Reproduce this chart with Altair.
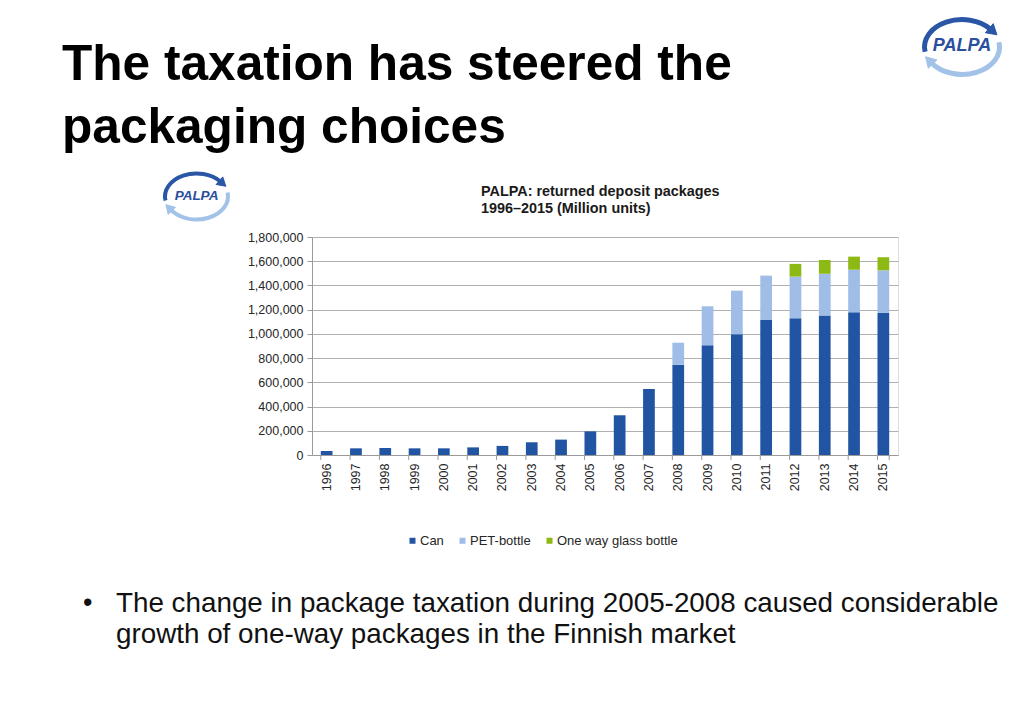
import altair as alt
import pandas as pd

years = [str(y) for y in range(1996, 2016)]
can = [33000, 55000, 58000, 55000, 55000, 63000, 75000, 105000, 127000, 195000,
       328000, 545000, 746000, 906000, 997000, 1115000, 1129000, 1151000, 1178000, 1173000]
pet = [0, 0, 0, 0, 0, 0, 0, 0, 0, 0,
       0, 0, 181000, 322000, 360000, 366000, 344000, 346000, 352000, 352000]
glass = [0, 0, 0, 0, 0, 0, 0, 0, 0, 0,
         0, 0, 0, 0, 0, 0, 105000, 114000, 108000, 108000]
series = ["Can", "PET-bottle", "One way glass bottle"]
colors = ["#2154a3", "#9fbde6", "#8db915"]
y_ticks = [0, 200000, 400000, 600000, 800000, 1000000, 1200000, 1400000, 1600000, 1800000]

title_text = "The taxation has steered the\npackaging choices"
chart_title = "PALPA: returned deposit packages\n1996\u20132015 (Million units)"
bullet_text = "The change in package taxation during 2005-2008 caused considerable\ngrowth of one-way packages in the Finnish market"
logo_word = "PALPA"

rows = []
for i, yr in enumerate(years):
    for k, (name, vals) in enumerate(zip(series, [can, pet, glass])):
        rows.append({"year": yr, "series": name, "order": k, "value": vals[i]})
df = pd.DataFrame(rows)

FONT = "Liberation Sans"
W, H = 586, 218
xscale = alt.Scale(domain=years, paddingInner=0.6, paddingOuter=0.3)
xaxis = alt.Axis(title=None, labelAngle=-90, labelFontSize=12.5, labelColor="#262626",
                 ticks=False, domainColor="#9a9a9a", labelPadding=8, labelFont=FONT)

bars = alt.Chart(df).mark_bar().encode(
    x=alt.X("year:N", scale=xscale, sort=years, axis=xaxis),
    y=alt.Y("value:Q", stack="zero", scale=alt.Scale(domain=[0, 1800000], nice=False),
            axis=alt.Axis(title=None, values=y_ticks,
                          labelExpr="format(datum.value, ',')", labelFontSize=12.5,
                          labelColor="#262626", tickSize=5, tickColor="#9a9a9a",
                          domainColor="#9a9a9a", gridColor="#b0b0b0", labelPadding=4,
                          labelFont=FONT)),
    color=alt.Color("series:N", scale=alt.Scale(domain=series, range=colors),
                    legend=alt.Legend(title=None, orient="none", legendX=94, legendY=297,
                                      direction="horizontal", columns=3, symbolType="square",
                                      symbolSize=36, symbolStrokeWidth=0, labelFontSize=13,
                                      labelColor="#262626", labelOffset=1, columnPadding=12,
                                      padding=0, labelFont=FONT)),
    order=alt.Order("order:Q", sort="ascending"),
)

edge_df = pd.DataFrame({"year": years})
edge_ticks = alt.Chart(edge_df).mark_rule(color="#9a9a9a").encode(
    x=alt.X("year:N", bandPosition=0, sort=years, scale=xscale, axis=xaxis),
    y=alt.value(H), y2=alt.value(H + 5))
last_tick = alt.Chart(pd.DataFrame({"year": [years[-1]]})).mark_rule(color="#9a9a9a").encode(
    x=alt.X("year:N", bandPosition=1, sort=years, scale=xscale, axis=xaxis),
    y=alt.value(H), y2=alt.value(H + 5))


def text_layer(txt, x, y, size, weight="normal", color="#000000", lh=None,
               align="left", baseline="alphabetic", style="normal"):
    kw = dict(align=align, baseline=baseline, fontSize=size, fontWeight=weight,
              font=FONT, color=color, lineBreak="\n", fontStyle=style)
    if lh is not None:
        kw["lineHeight"] = lh
    return alt.Chart(pd.DataFrame({"t": [txt]})).mark_text(**kw).encode(
        x=alt.value(x), y=alt.value(y), text="t:N")


title = text_layer(title_text, -250, -157, 49.6, "bold", "#000000", 63)
ctitle = text_layer(chart_title, 169, -41, 14.4, "bold", "#1a1a1a", 17)
bullet_dot = text_layer("\u2022", -229, 374, 27, "normal", "#111111")
bullet = text_layer(bullet_text, -196, 375, 27.8, "normal", "#111111", 31)

top_arc = "M-0.985,0.127 A1,0.73 0 0 1 0.766,-0.469"
top_head = "M0.932,-0.325 L0.623,-0.381 L0.833,-0.623 Z"
bot_arc = "M0.985,-0.127 A1,0.73 0 0 1 -0.819,0.419"
bot_head = "M-0.971,0.260 L-0.669,0.344 L-0.899,0.566 Z"


def logo(cx, cy, r, sw, fs):
    one = pd.DataFrame({"t": [logo_word]})
    size = (2 * r) ** 2
    layers = []
    for path, col, filled in [(top_arc, "#2a56a6", False), (top_head, "#2a56a6", True),
                              (bot_arc, "#a3c2e8", False), (bot_head, "#a3c2e8", True)]:
        if filled:
            m = alt.Chart(one).mark_point(shape=path, filled=True, fill=col, stroke=col,
                                          strokeWidth=1, size=size, opacity=1)
        else:
            m = alt.Chart(one).mark_point(shape=path, filled=False, stroke=col,
                                          strokeWidth=sw, size=size, opacity=1)
        layers.append(m.encode(x=alt.value(cx), y=alt.value(cy)))
    layers.append(alt.Chart(one).mark_text(fontSize=fs, fontWeight="bold", fontStyle="italic",
                                           font=FONT, color="#2a4f9e", align="center",
                                           baseline="middle").encode(
        x=alt.value(cx), y=alt.value(cy - 1), text="t:N"))
    return layers


chart = alt.layer(
    bars, edge_ticks, last_tick, title, ctitle, bullet_dot, bullet,
    *logo(650, -190, 37.5, 5, 18),
    *logo(-115.5, -40.5, 31.5, 4, 13.5),
).properties(
    width=W, height=H,
    padding={"left": 304, "top": 229, "right": 118, "bottom": 246},
    autosize=alt.AutoSizeParams(type="none"),
).configure_view(stroke=None).configure(background="#ffffff")

chart.save("out.html", embed_options={"renderer": "svg", "actions": False})
